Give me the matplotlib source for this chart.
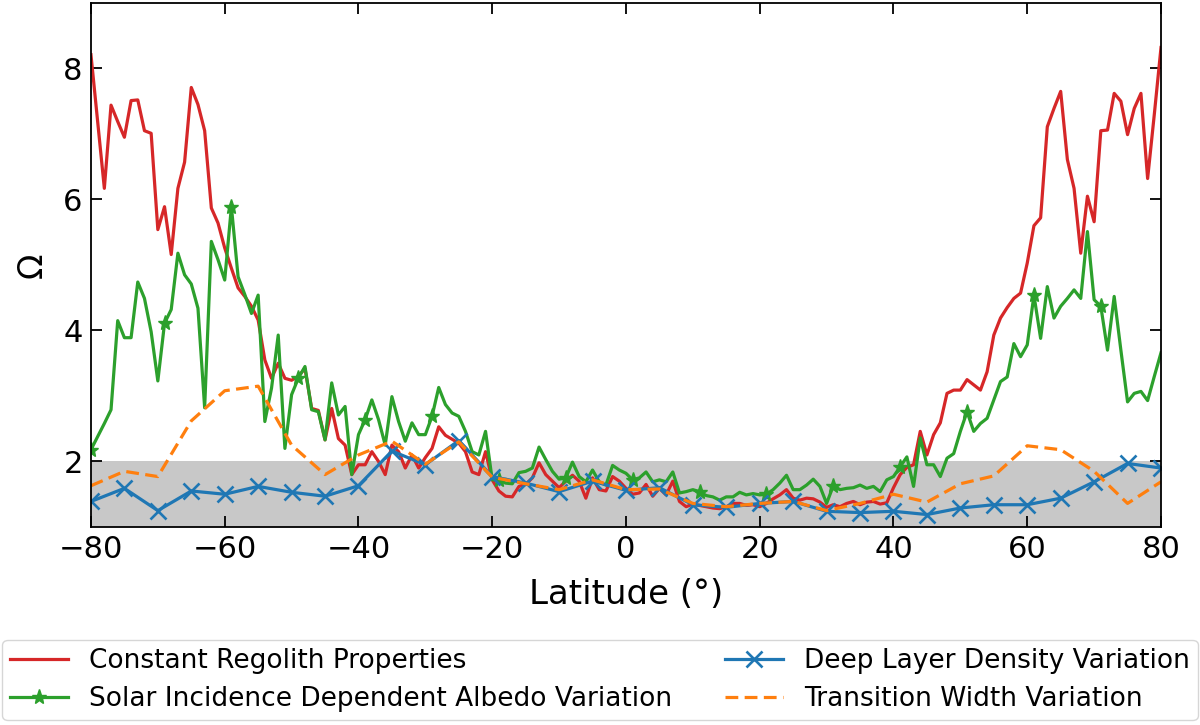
import numpy as np
import matplotlib
matplotlib.use("Agg")
import matplotlib.pyplot as plt

# latitude grid for the two dense runs (1 degree)
lat = np.arange(-80, 81)

# Constant Regolith Properties
omega_const = [
    8.21, 7.19, 6.17, 7.44, 7.19, 6.95, 7.51, 7.52, 7.05, 7.01,   # -80..-71
    5.54, 5.89, 5.16, 6.17, 6.57, 7.71, 7.45, 7.05, 5.87, 5.64,   # -70..-61
    5.26, 4.95, 4.65, 4.52, 4.37, 4.16, 3.55, 3.27, 3.50, 3.27,   # -60..-51
    3.24, 3.30, 3.42, 2.81, 2.78, 2.33, 2.81, 2.35, 2.25, 1.80,   # -50..-41
    1.95, 1.95, 2.15, 2.00, 1.80, 2.25, 2.15, 1.90, 2.10, 1.90,   # -40..-31
    2.06, 2.20, 2.53, 2.40, 2.34, 2.28, 2.15, 1.84, 1.80, 2.15,   # -30..-21
    1.72, 1.55, 1.47, 1.46, 1.62, 1.65, 1.75, 1.98, 1.80, 1.70,   # -20..-11
    1.60, 1.70, 1.79, 1.70, 1.44, 1.75, 1.57, 1.55, 1.77, 1.70,   # -10..-1
    1.59, 1.50, 1.52, 1.65, 1.47, 1.59, 1.49, 1.70, 1.39, 1.31,   # 0..9
    1.35, 1.33, 1.31, 1.29, 1.28, 1.31, 1.36, 1.36, 1.33, 1.34,   # 10..19
    1.31, 1.36, 1.43, 1.49, 1.57, 1.44, 1.41, 1.44, 1.43, 1.38,   # 20..29
    1.30, 1.34, 1.31, 1.36, 1.39, 1.34, 1.38, 1.39, 1.35, 1.37,   # 30..39
    1.60, 1.80, 1.91, 1.95, 2.46, 2.10, 2.41, 2.59, 3.04, 3.09,   # 40..49
    3.09, 3.25, 3.17, 3.09, 3.37, 3.93, 4.19, 4.35, 4.49, 4.57,   # 50..59
    5.03, 5.60, 5.72, 7.11, 7.39, 7.65, 6.61, 6.17, 5.18, 6.05,   # 60..69
    5.66, 7.05, 7.06, 7.62, 7.50, 6.99, 7.39, 7.62, 6.32, 7.30,   # 70..79
    8.32,                                                         # 80
]

# Solar Incidence Dependent Albedo Variation
omega_albedo = [
    2.18, 2.38, 2.58, 2.79, 4.15, 3.89, 3.89, 4.74, 4.49, 3.98,
    3.23, 4.11, 4.32, 5.18, 4.85, 4.71, 4.34, 2.82, 5.36, 5.08,
    4.77, 5.89, 4.82, 4.55, 4.26, 4.54, 2.61, 3.12, 3.93, 2.20,
    3.02, 3.27, 3.45, 2.79, 2.76, 2.33, 3.20, 2.71, 2.84, 1.80,
    2.41, 2.64, 2.94, 2.64, 2.25, 2.99, 2.61, 2.31, 2.59, 2.41,
    2.41, 2.69, 3.13, 2.87, 2.74, 2.69, 2.46, 2.15, 2.10, 2.46,
    1.72, 1.72, 1.67, 1.66, 1.83, 1.85, 1.90, 2.22, 2.03, 1.85,
    1.73, 1.75, 1.99, 1.77, 1.69, 1.87, 1.69, 1.64, 1.94, 1.87,
    1.82, 1.72, 1.75, 1.84, 1.69, 1.72, 1.69, 1.84, 1.52, 1.54,
    1.57, 1.54, 1.48, 1.46, 1.41, 1.46, 1.46, 1.53, 1.49, 1.51,
    1.49, 1.50, 1.57, 1.67, 1.79, 1.57, 1.57, 1.64, 1.73, 1.62,
    1.36, 1.63, 1.57, 1.59, 1.60, 1.64, 1.59, 1.62, 1.54, 1.72,
    1.77, 1.92, 2.07, 1.62, 2.36, 1.95, 1.95, 1.77, 2.05, 2.12,
    2.46, 2.76, 2.46, 2.58, 2.66, 2.94, 3.22, 3.29, 3.80, 3.60,
    3.78, 4.54, 3.88, 4.67, 4.19, 4.37, 4.49, 4.62, 4.49, 5.51,
    4.47, 4.37, 3.70, 4.52, 3.70, 2.91, 3.04, 3.07, 2.93, 3.30,
    3.66,
]
albedo_marks = [0] + list(range(11, 161, 10))

# coarser runs (5 degree)
lat5 = np.arange(-80, 81, 5)
omega_density = [
    1.39, 1.59, 1.25, 1.55, 1.50, 1.62, 1.53, 1.47, 1.63, 2.16, 1.95,
    2.32, 1.77, 1.67, 1.54, 1.70, 1.56, 1.60, 1.34, 1.30, 1.36, 1.39,
    1.24, 1.22, 1.24, 1.19, 1.29, 1.34, 1.34, 1.44, 1.69, 1.97, 1.90,
]
omega_width = [
    1.63, 1.85, 1.77, 2.62, 3.08, 3.15, 2.25, 1.80, 2.10, 2.31, 1.96,
    2.30, 1.76, 1.66, 1.57, 1.72, 1.57, 1.58, 1.36, 1.31, 1.36, 1.39,
    1.25, 1.36, 1.50, 1.38, 1.66, 1.78, 2.24, 2.18, 1.85, 1.36, 1.69,
]

fig = plt.figure(figsize=(12, 7.25), dpi=100)
ax = fig.add_axes([0.0758, 0.2731, 0.8917, 0.7228])

ax.axhspan(1, 2, color="#c8c8c8", lw=0, zorder=0)

ax.plot(lat, omega_const, color="#d62728", lw=2.3,
        label="Constant Regolith Properties")
ax.plot(lat, omega_albedo, color="#2ca02c", lw=2.3, marker="*", ms=11,
        markevery=albedo_marks,
        label="Solar Incidence Dependent Albedo Variation")
ax.plot(lat5, omega_density, color="#1f77b4", lw=2.3, marker="x", ms=11,
        mew=1.9, label="Deep Layer Density Variation")
ax.plot(lat5, omega_width, color="#ff7f0e", lw=2.3, ls=(0, (4, 2)),
        label="Transition Width Variation")

ax.set_xlim(-80, 80)
ax.set_ylim(1, 9)
ax.set_xticks(np.arange(-80, 81, 20))
ax.set_yticks([2, 4, 6, 8])
ax.tick_params(direction="in", top=True, right=True, length=8, width=1.3,
               labelsize=22, pad=6)
for s in ax.spines.values():
    s.set_linewidth(1.3)
ax.set_xlabel("Latitude (°)", fontsize=24.5, labelpad=10)
ax.set_ylabel("Ω", fontsize=24, labelpad=10)

fig.legend(loc="lower left", bbox_to_anchor=(0.002, 0.007, 0.996, 0.112),
           mode="expand", ncol=2, fontsize=19, handlelength=2.2,
           borderpad=0.3, labelspacing=0.45, borderaxespad=0.0)

fig.savefig("out.png", dpi=100)
